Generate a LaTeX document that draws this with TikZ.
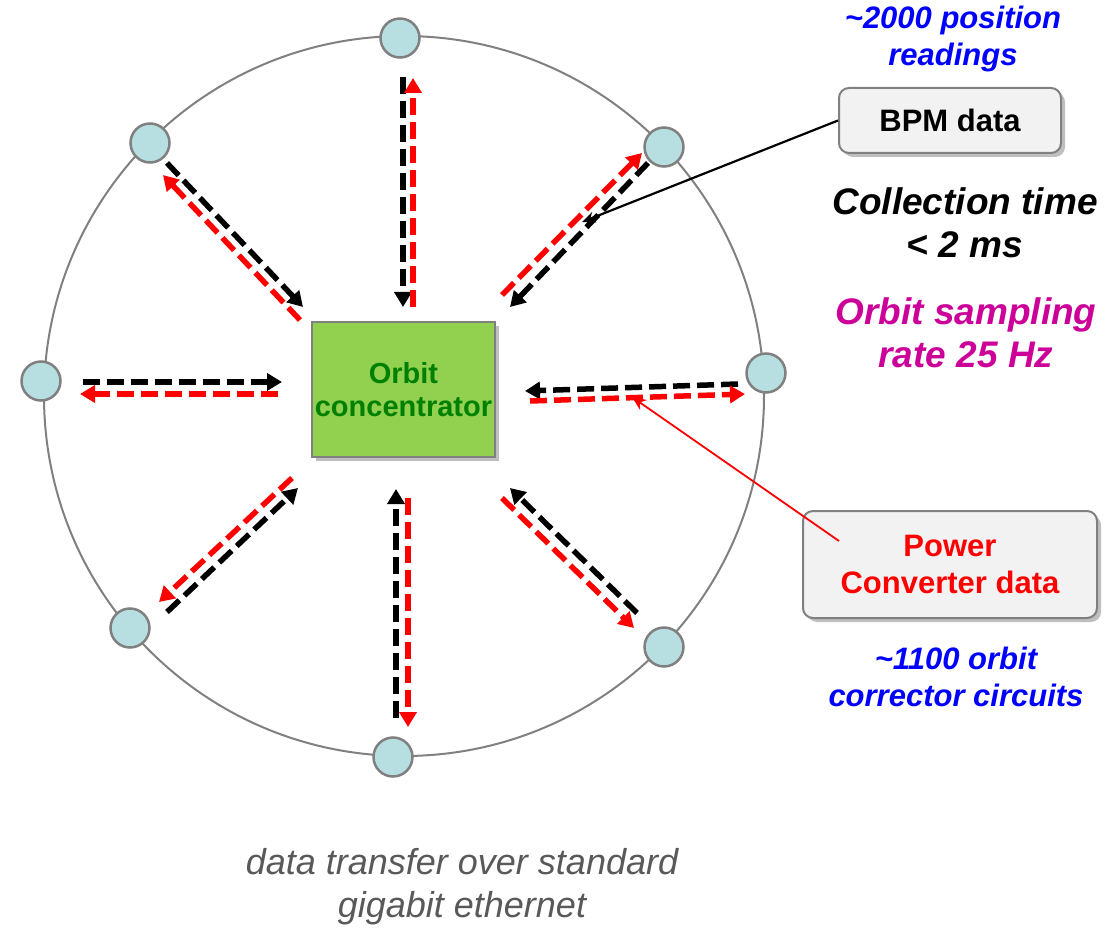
\documentclass[tikz,border=0pt]{standalone}
\usepackage{fontspec}
\setmainfont{Liberation Sans}
\usetikzlibrary{arrows.meta,shadows}
\definecolor{ringgray}{HTML}{808080}
\definecolor{nodecyan}{HTML}{B7DEE0}
\definecolor{concgreen}{HTML}{92D050}
\definecolor{textgreen}{HTML}{008000}
\definecolor{bluetext}{HTML}{0000FF}
\definecolor{magtext}{HTML}{CC0099}
\definecolor{graytext}{HTML}{595959}
\definecolor{boxfill}{HTML}{F2F2F2}

\begin{document}
\begin{tikzpicture}[x=1pt,y=-1pt,
  station/.style={circle,draw=ringgray,line width=2.5pt,fill=nodecyan,
    minimum size=39pt,inner sep=0pt},
  flow/.style={line width=5.5pt,dash pattern=on 17pt off 7pt,
    -{Triangle[length=15pt,width=17pt]}},
  inflow/.style={flow,draw=black},
  outflow/.style={flow,draw=red},
  softshadow/.style={drop shadow={shadow xshift=4pt,shadow yshift=-4pt,
    fill=black,opacity=.25}},
  infobox/.style={draw=ringgray,line width=2pt,fill=boxfill,rounded corners=10pt,
    softshadow,align=center,inner sep=0pt},
  bigbold/.style={font=\fontsize{37}{43}\selectfont\bfseries\itshape,align=center},
  midbold/.style={font=\fontsize{31}{37}\selectfont\bfseries\itshape,align=center},
]
\useasboundingbox (0,0) rectangle (1104,928);

% ring of the network
\draw[ringgray,line width=2pt] (404,396) circle[radius=360];

% central concentrator
\node[draw=ringgray,line width=2pt,fill=concgreen,softshadow,
  minimum width=183pt,minimum height=135pt,inner sep=0pt,align=center,
  text=textgreen,font=\fontsize{29}{33}\selectfont\bfseries]
  (conc) at (403.5,389.5) {Orbit\\concentrator};

% end points of the data flows
\coordinate (n-in-a)  at (403,77);  \coordinate (n-in-b)  at (403,307);
\coordinate (n-out-a) at (413,307); \coordinate (n-out-b) at (413,78);
\coordinate (nw-in-a)  at (167,163); \coordinate (nw-in-b)  at (303,307);
\coordinate (nw-out-a) at (300,320); \coordinate (nw-out-b) at (163,175);
\coordinate (ne-in-a)  at (648,163); \coordinate (ne-in-b)  at (510,307);
\coordinate (ne-out-a) at (502,295); \coordinate (ne-out-b) at (642,153);
\coordinate (w-in-a)  at (83,382);  \coordinate (w-in-b)  at (282,382);
\coordinate (w-out-a) at (278,394); \coordinate (w-out-b) at (80,394);
\coordinate (e-in-a)  at (738,384); \coordinate (e-in-b)  at (525,391);
\coordinate (e-out-a) at (530,401); \coordinate (e-out-b) at (745,394);
\coordinate (sw-in-a)  at (167,612); \coordinate (sw-in-b)  at (298,488);
\coordinate (sw-out-a) at (292,478); \coordinate (sw-out-b) at (159,602);
\coordinate (s-in-a)  at (396,718); \coordinate (s-in-b)  at (396,489);
\coordinate (s-out-a) at (408,498); \coordinate (s-out-b) at (408,727);
\coordinate (se-in-a)  at (637,613); \coordinate (se-in-b)  at (510,488);
\coordinate (se-out-a) at (502,498); \coordinate (se-out-b) at (634,628);

% readings towards the concentrator (black), corrections outwards (red)
\foreach \d in {n,nw,ne,w,e,sw,s,se}{
  \draw[inflow]  (\d-in-a)  -- (\d-in-b);
  \draw[outflow] (\d-out-a) -- (\d-out-b);
}

% stations on the ring
\node[station] (st-n)  at (400,38)  {};
\node[station] (st-nw) at (150,143) {};
\node[station] (st-ne) at (664,147) {};
\node[station] (st-w)  at (41,381)  {};
\node[station] (st-e)  at (766,373) {};
\node[station] (st-sw) at (130,628) {};
\node[station] (st-s)  at (393,757) {};
\node[station] (st-se) at (664,647) {};

% annotations on the right
\node[midbold,text=bluetext] (bpmcount) at (953,39)
  {\textasciitilde 2000 position\\readings};
\node[infobox,minimum width=222pt,minimum height=65pt,
  font=\fontsize{31}{37}\selectfont\bfseries] (bpm) at (950,120.5) {BPM data};
\node[bigbold,text=black] (ctime) at (965,223) {Collection time\\< 2 ms};
\node[bigbold,text=magtext] (rate) at (966,333) {Orbit sampling\\rate 25 Hz};
\node[infobox,minimum width=294pt,minimum height=107pt,text=red,
  font=\fontsize{31}{37}\selectfont\bfseries] (pc) at (950,564.5)
  {Power\\Converter data};
\node[midbold,text=bluetext] (pccount) at (956,677)
  {\textasciitilde 1100 orbit\\corrector circuits};

% callout pointers
\coordinate (bpm-tip) at (582,222);
\draw[black,line width=2.2pt,-{Stealth[length=13pt,width=11pt]}] (bpm.west) -- (bpm-tip);
\coordinate (pc-tail) at (839,541);
\coordinate (pc-tip) at (632,397);
\draw[red,line width=1.8pt,-{Stealth[length=14pt,width=12pt]}] (pc-tail) -- (pc-tip);

% caption
\node[font=\fontsize{36}{43}\selectfont\itshape,text=graytext,align=center]
  (caption) at (462,887) {data transfer over standard\\gigabit ethernet};
\end{tikzpicture}
\end{document}
